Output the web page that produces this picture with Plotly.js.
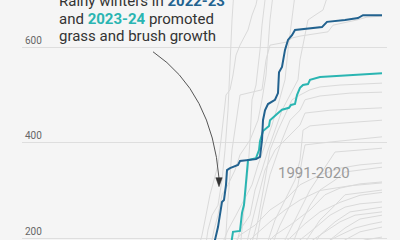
<!DOCTYPE html>
<html>
<head>
<meta charset="utf-8">
<script src="https://cdn.plot.ly/plotly-3.0.1.min.js"></script>
<style>html,body{margin:0;padding:0;background:#f5f5f5;}#chart{width:400px;height:240px;}</style>
</head>
<body>
<div id="chart"></div>
<script>
// Cumulative totals by day of season
const days2022 = [213,215,218,220,222,224,226,227,230,238,240,256,260,262,263,265,268,275,278,279,282,285,288,292,295,322,327,345,358,363,382];
const totals2022 = [185,196,223,248,276,280,312,343,347,354,362,366,371,406,448,469,482,491,505,549,560,596,617,627,638,644,655,659,663,669,669];

const days2023 = [231,232,233,240,242,244,245,247,248,256,259,260,263,269,270,277,282,289,291,295,297,300,303,308,310,320,350,382];
const totals2023 = [185,196,213,215,253,270,295,354,364,368,385,404,425,436,448,461,470,474,480,482,501,516,522,524,533,539,543,547];

// 1991-2020 seasons
const grayDays = [
  [225,228,232,236,240,262,266,270,288,292,300,328,333,357,367,382],
  [205,208,212,218,222,225,228,230,232,234],
  [240,245,248,250,252,256,258,260,262,265,268],
  [235,240,250,255,262,268,275,282,290,298,300,303,308,315,323,328],
  [250,258,265,270,278,285,292,300,310,320,340,382],
  [255,262,270,275,282,290,300,305,320,350,382],
  [245,250,258,265,275,285,300,305,330,382],
  [265,275,285,295,300,303,310,330,382],
  [270,280,290,298,302,305,330,382],
  [280,290,300,310,320,330,335,382],
  [230,240,255,270,285,300,320,340,360,382],
  [290,300,310,320,335,345,382],
  [260,275,290,310,325,340,360,382],
  [300,310,320,335,345,382],
  [285,300,315,330,345,360,382],
  [310,320,335,350,382],
  [295,310,325,340,355,382],
  [320,330,345,360,382],
  [305,320,340,355,370,382],
  [330,345,360,382],
  [340,350,365,382],
  [198,202,206,210,214,218,221,224,226,230,233,236,240,248,252,256,258],
  [210,214,218,222,228,235,240,250,258,262,266,268,270,273],
  [220,228,236,244,252,258,265,272,278,285,288,292,295],
  [240,255,270,285,300,320,350,382],
  [275,290,305,320,340,360,382]
];
const grayTotals = [
  [175,280,385,448,501,512,575,606,613,621,625,634,648,659,665,667],
  [175,217,248,269,322,385,469,575,659,722],
  [175,280,343,406,491,522,554,596,648,701,722],
  [175,217,248,301,343,385,427,469,501,533,575,606,659,669,680,712],
  [175,238,322,385,427,459,491,501,512,518,522,526],
  [175,259,333,364,406,448,469,491,499,505,507],
  [175,217,280,343,385,406,438,463,469,474],
  [175,238,280,322,364,427,436,440,448],
  [175,227,269,312,364,396,402,413],
  [175,217,259,301,333,364,381,389],
  [175,206,227,259,280,312,333,347,354,358],
  [175,227,269,301,322,339,349],
  [175,206,227,259,291,305,314,318],
  [175,206,238,269,291,301],
  [175,196,221,248,265,272,276],
  [175,206,234,255,265],
  [175,192,213,234,248,255],
  [175,196,221,240,248],
  [175,185,206,221,229,234],
  [175,196,213,223],
  [175,185,196,202],
  [175,206,248,291,322,354,406,469,501,512,543,585,606,638,669,691,712],
  [175,217,248,291,312,343,375,406,448,491,543,596,659,712],
  [175,217,248,280,312,354,396,438,480,533,596,659,712],
  [175,206,234,259,280,300,310,316],
  [175,200,230,255,275,290,296]
];

const yTicks = [200,400,600];
const yTickLabels = ['200','400','600'];

const FONT = 'Roboto, "Open Sans", sans-serif';
const traces = [];
grayDays.forEach((d,i)=>{
  traces.push({x:d, y:grayTotals[i], type:'scatter', mode:'lines',
    line:{color:'#dadada', width:1}, hoverinfo:'skip'});
});
traces.push({x:days2023, y:totals2023, type:'scatter', mode:'lines', line:{color:'#2ab5b2', width:2}});
traces.push({x:days2022, y:totals2022, type:'scatter', mode:'lines', line:{color:'#22628f', width:2}});

const layout = {
  width:400, height:240,
  paper_bgcolor:'#f5f5f5', plot_bgcolor:'#f5f5f5',
  margin:{l:22, r:13, t:0, b:0},
  showlegend:false,
  xaxis:{range:[22,387], visible:false, fixedrange:true},
  yaxis:{range:[195.8,701], tickvals:yTicks, ticktext:yTickLabels,
    showgrid:true, gridcolor:'#dedede', gridwidth:1, zeroline:false, showline:false,
    ticks:'', ticklabelposition:'inside top',
    tickfont:{family:FONT, size:10, color:'#666'}},
  shapes:[
    {type:'path', xref:'x', yref:'y', path:'M 153,592 Q 212,507 219,326',
     line:{color:'#555', width:1}, layer:'above'},
    {type:'path', xref:'x', yref:'y', path:'M 215.8,327 L 222.2,327 L 219,308 Z',
     fillcolor:'#333', line:{color:'#333', width:0.5}, layer:'above'}
  ],
  annotations:[
    {xref:'paper', yref:'paper', x:(57-22)/365, y:1-1.5/240, xanchor:'left', yanchor:'middle', showarrow:false,
     text:'Rainy winters in <b><span style="color:#22628f">2022-23</span></b>',
     font:{family:FONT, size:15, color:'#333'}},
    {xref:'paper', yref:'paper', x:(57-22)/365, y:1-19/240, xanchor:'left', yanchor:'middle', showarrow:false,
     text:'and <b><span style="color:#2ab5b2">2023-24</span></b> promoted',
     font:{family:FONT, size:15, color:'#333'}},
    {xref:'paper', yref:'paper', x:(57-22)/365, y:1-36/240, xanchor:'left', yanchor:'middle', showarrow:false,
     text:'grass and brush growth',
     font:{family:FONT, size:15, color:'#333'}},
    {xref:'paper', yref:'paper', x:(314-22)/365, y:1-173/240, xanchor:'center', yanchor:'middle', showarrow:false,
     text:'1991-2020', font:{family:FONT, size:15, color:'#9a9a9a'}}
  ]
};
Plotly.newPlot('chart', traces, layout, {staticPlot:true, displayModeBar:false});
</script>
</body>
</html>
